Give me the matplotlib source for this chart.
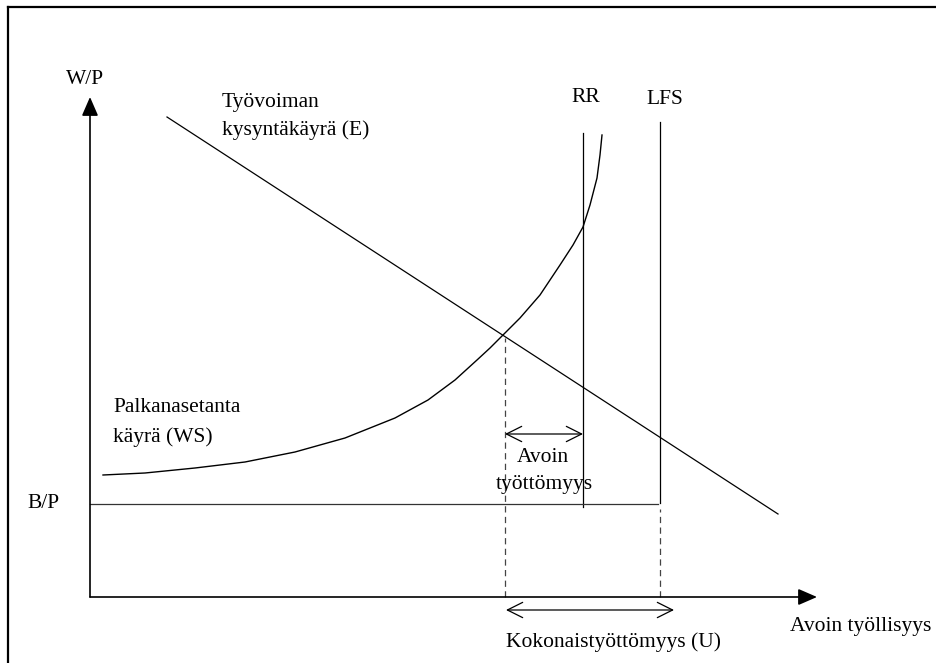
import matplotlib.pyplot as plt

# työllisyys (N) ja reaalipalkka (w) kaavion omissa yksiköissä, origo akseleiden kulmassa
ws_n = [13, 55, 105, 155, 205, 255, 305, 338, 365, 387, 400, 413, 430, 450,
        470, 483, 493, 500, 507, 510, 512]
ws_w = [122, 124, 129, 135, 145, 159, 179, 197, 217, 237, 249, 262, 279, 302,
        332, 352, 370, 392, 419, 442, 462]

e_n = [77, 688]
e_w = [480, 83]

rr_n = 493
rr_w = [90, 464]
lfs_n = 570
lfs_w = [94, 475]
bp_w = 93
eq_n = 415
eq_w = 262

x_end = 727
y_end = 500

plt.rcParams['font.family'] = ['Liberation Serif', 'DejaVu Serif']
plt.rcParams['font.size'] = 15.5

fig = plt.figure(figsize=(9.36, 6.63), dpi=100)
ax = fig.add_axes([0, 0, 1, 1])
ax.set_xlim(-90, 846)
ax.set_ylim(-66, 597)
ax.axis('off')

# kehys
ax.plot([-82, -82], [-66, 590], color='black', lw=1.6, clip_on=False)
ax.plot([-82, 846], [590, 590], color='black', lw=1.6, clip_on=False)

# akselit
head = dict(arrowstyle='-|>,head_length=1.15,head_width=0.5', color='black',
            lw=1.2, mutation_scale=10, shrinkA=0, shrinkB=0)
ax.annotate('', xy=(0, y_end), xytext=(0, 0), arrowprops=head)
ax.annotate('', xy=(x_end, 0), xytext=(0, 0), arrowprops=head)

# käyrät
ax.plot(ws_n, ws_w, color='black', lw=1.0, solid_joinstyle='round')
ax.plot(e_n, e_w, color='black', lw=0.9)
ax.plot([rr_n, rr_n], rr_w, color='black', lw=0.9)
ax.plot([lfs_n, lfs_n], lfs_w, color='black', lw=0.9)
ax.plot([0, lfs_n - 2], [bp_w, bp_w], color='#333333', lw=0.9)

# katkoviivat
ax.plot([eq_n, eq_n], [0, eq_w - 3], color='#444444', lw=0.9, dashes=(5, 3.5))
ax.plot([lfs_n, lfs_n], [0, lfs_w[0] - 6], color='#444444', lw=0.9, dashes=(5, 3.5))

# kaksisuuntaiset nuolet
dbl = dict(arrowstyle='<->,head_length=1.1,head_width=0.55', color='black',
           lw=0.9, mutation_scale=10, shrinkA=0, shrinkB=0)
ax.annotate('', xy=(eq_n, 163), xytext=(rr_n, 163), arrowprops=dbl)
ax.annotate('', xy=(eq_n + 1, -13), xytext=(584, -13), arrowprops=dbl)

# tekstit
ax.text(-5, 517, 'W/P', ha='center', va='center')
ax.text(132, 494, 'Työvoiman', ha='left', va='center')
ax.text(132, 467, 'kysyntäkäyrä (E)', ha='left', va='center')
ax.text(496, 500, 'RR', ha='center', va='center')
ax.text(575, 497, 'LFS', ha='center', va='center')
ax.text(23, 190, 'Palkanasetanta', ha='left', va='center')
ax.text(23, 160, 'käyrä (WS)', ha='left', va='center')
ax.text(-63, bp_w, 'B/P', ha='left', va='center')
ax.text(453, 140, 'Avoin', ha='center', va='center')
ax.text(454, 112, 'työttömyys', ha='center', va='center')
ax.text(416, -45, 'Kokonaistyöttömyys (U)', ha='left', va='center')
ax.text(700, -29, 'Avoin työllisyys', ha='left', va='center')

fig.savefig('out.png', dpi=100)
